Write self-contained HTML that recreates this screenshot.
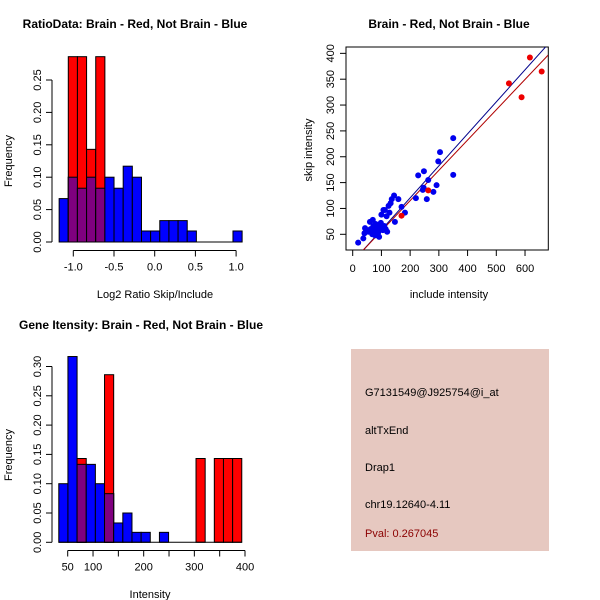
<!DOCTYPE html>
<html><head><meta charset="utf-8"><style>
body{margin:0;background:#fff}
svg{display:block;font-family:"Liberation Sans",sans-serif;font-size:11px}
</style></head><body>
<svg id="s" width="600" height="600" viewBox="0 0 600 600">
<rect width="600" height="600" fill="#fff"/>
<text x="135" y="28" text-anchor="middle" font-weight="bold" font-size="12">RatioData: Brain - Red, Not Brain - Blue</text>
<text x="449" y="28" text-anchor="middle" font-weight="bold" font-size="12">Brain - Red, Not Brain - Blue</text>
<text x="141" y="329" text-anchor="middle" font-weight="bold" font-size="12">Gene Itensity: Brain - Red, Not Brain - Blue</text>
<text x="155" y="298" text-anchor="middle">Log2 Ratio Skip/Include</text>
<text x="150" y="598" text-anchor="middle">Intensity</text>
<text x="449" y="298" text-anchor="middle">include intensity</text>
<text transform="translate(12,161) rotate(-90)" text-anchor="middle">Frequency</text>
<text transform="translate(12,455) rotate(-90)" text-anchor="middle">Frequency</text>
<text transform="translate(312,150) rotate(-90)" text-anchor="middle">skip intensity</text>
<g>
<rect x="351" y="349" width="198" height="202" fill="#e6c8c0"/>
<text x="365" y="396">G7131549@J925754@i_at</text>
<text x="365" y="434">altTxEnd</text>
<text x="365" y="471">Drap1</text>
<text x="365" y="508">chr19.12640-4.11</text>
<text x="365" y="537" fill="#8b0000">Pval: 0.267045</text>
</g>
<g id="g"></g>
</svg>
<script>
// Ratio histogram data
const ratioBlue=[0.067,0.10,0.083,0.10,0.083,0.10,0.083,0.117,0.10,0.017,0.017,0.033,0.033,0.033,0.017,0,0,0,0,0.017];
const ratioRed=[0,0.286,0.286,0.143,0.286,0,0,0,0,0,0,0,0,0,0,0,0,0,0,0];
const ratioXTicks=[-1.0,-0.5,0.0,0.5,1.0];
const ratioYTicks=[0,0.05,0.10,0.15,0.20,0.25];
// Intensity histogram data
const intBlue=[0.10,0.317,0.133,0.133,0.10,0.083,0.033,0.05,0.017,0.017,0,0.017,0,0,0,0,0,0,0,0];
const intRed=[0,0,0.143,0,0,0.286,0,0,0,0,0,0,0,0,0,0.143,0,0.143,0.143,0.143];
const intXTicks=[50,100,150,200,250,300,350,400];
const intXLabels=["50","100","","200","","300","","400"];
const intYTicks=[0,0.05,0.10,0.15,0.20,0.25,0.30];
// Scatter data
const blueX=[19,37,41,43,60,70,55,62,68,72,75,80,85,90,95,100,105,110,115,120,78,88,98,107,112,125,132,136,144,159,147,170,182,220,228,248,244,247,258,263,281,292,298,304,350,350,65,92,118,128,100];
const blueY=[34,42,52,62,74,78,55,60,50,66,58,70,62,56,68,64,58,66,60,55,48,52,72,97,97,105,110,118,125,118,74,103,92,120,164,172,136,140,118,155,132,145,191,209,236,165,60,45,85,92,88];
const redX=[544,617,588,658,170,263];
const redY=[342,392,315,365,86,135];
const fitBlue=[-3.3,0.619];
const fitRed=[-2.1,0.586];
const scXTicks=[0,100,200,300,400,500,600];
const scYTicks=[50,100,150,200,250,300,350,400];

const NS="http://www.w3.org/2000/svg",G=document.getElementById('g');
function el(t,a,p){const e=document.createElementNS(NS,t);for(const k in a)e.setAttribute(k,a[k]);(p||G).appendChild(e);return e;}
function txt(s,a){const e=el('text',a);e.textContent=s;return e;}

function hist(opts){
 const {blue,red,start,w,xs,ys,yAxisX,baseY,axisY,xTicks,xLabels,yTicks,name}=opts;
 const g=el('g',{});
 
 
 for(let i=0;i<blue.length;i++){
  const x0=xs(start+i*w),x1=xs(start+(i+1)*w);
  const b=blue[i],r=red[i];
  if(b>0){const e=el('rect',{x:x0,y:ys(b),width:x1-x0,height:baseY-ys(b),fill:'#0000ff',stroke:'#000','stroke-width':1},g);
   
   }
  if(r>0){const e=el('rect',{x:x0,y:ys(r),width:x1-x0,height:baseY-ys(r),fill:'#ff0000',stroke:'#000','stroke-width':1},g);
   
   }
  if(r>0&&b>0){const m=Math.min(r,b);const e=el('rect',{x:x0,y:ys(m),width:x1-x0,height:baseY-ys(m),fill:'#7f007f',stroke:'#000','stroke-width':1},g);
   
   }
 }
 // axis line under baseline
 el('line',{x1:xs(start),x2:xs(start+blue.length*w),y1:baseY,y2:baseY,stroke:'#000'},g);
 // x axis
 el('line',{x1:xs(xTicks[0]),x2:xs(xTicks[xTicks.length-1]),y1:axisY,y2:axisY,stroke:'#000'},g);
 xTicks.forEach((t,i)=>{el('line',{x1:xs(t),x2:xs(t),y1:axisY,y2:axisY+6,stroke:'#000'},g);
  const lab=xLabels?xLabels[i]:t.toFixed(1);
  if(lab){const e=el('text',{x:xs(t),y:axisY+20,'text-anchor':'middle'},g);e.textContent=lab;}});
 // y axis
 el('line',{x1:yAxisX,x2:yAxisX,y1:ys(yTicks[0]),y2:ys(yTicks[yTicks.length-1]),stroke:'#000'},g);
 yTicks.forEach(t=>{el('line',{x1:yAxisX-6,x2:yAxisX,y1:ys(t),y2:ys(t),stroke:'#000'},g);
  const e=el('text',{transform:`translate(${yAxisX-11},${ys(t)}) rotate(-90)`,'text-anchor':'middle'},g);e.textContent=t.toFixed(2);});
}
hist({blue:ratioBlue,red:ratioRed,start:-1.174,w:0.1124,xs:v=>154.7+v*81.4,ys:v=>242-v*648,yAxisX:52,baseY:242,axisY:250.5,xTicks:ratioXTicks,yTicks:ratioYTicks,name:'ratio-histogram'});
hist({blue:intBlue,red:intRed,start:32.4,w:18.06,xs:v=>67.7+(v-50)*0.5066,ys:v=>542.3-v*586,yAxisX:52,baseY:542.3,axisY:550.5,xTicks:intXTicks,xLabels:intXLabels,yTicks:intYTicks,name:'intensity-histogram'});

// scatter
const sx=v=>352.7+v*0.2872, sy=v=>234.3-(v-50)*0.517;
const sg=el('g',{});


el('clipPath',{id:'cp'},sg).appendChild(document.createElementNS(NS,'rect'));
const cr=sg.querySelector('#cp rect');cr.setAttribute('x',346);cr.setAttribute('y',47);cr.setAttribute('width',202);cr.setAttribute('height',203);
el('rect',{x:346,y:47,width:202.3,height:203,fill:'none',stroke:'#000'},sg);
[[fitBlue,'#00008b','blue-fit-line'],[fitRed,'#b00000','red-fit-line']].forEach(([f,c,n])=>{
 const e=el('line',{x1:sx(0),y1:sy(f[0]),x2:sx(700),y2:sy(f[0]+f[1]*700),stroke:c,'clip-path':'url(#cp)'},sg);
 
 });
blueX.forEach((x,i)=>{const e=el('circle',{cx:sx(x),cy:sy(blueY[i]),r:3,fill:'#0000ee'},sg);
 
 });
redX.forEach((x,i)=>{const e=el('circle',{cx:sx(x),cy:sy(redY[i]),r:3,fill:'#ee0000'},sg);
 
 });
scXTicks.forEach(t=>{el('line',{x1:sx(t),x2:sx(t),y1:250,y2:256,stroke:'#000'},sg);
 const e=el('text',{x:sx(t),y:272,'text-anchor':'middle'},sg);e.textContent=t;});
scYTicks.forEach(t=>{el('line',{x1:340,x2:346,y1:sy(t),y2:sy(t),stroke:'#000'},sg);
 const e=el('text',{transform:`translate(334,${sy(t)}) rotate(-90)`,'text-anchor':'middle'},sg);e.textContent=t;});
</script>
</body></html>
